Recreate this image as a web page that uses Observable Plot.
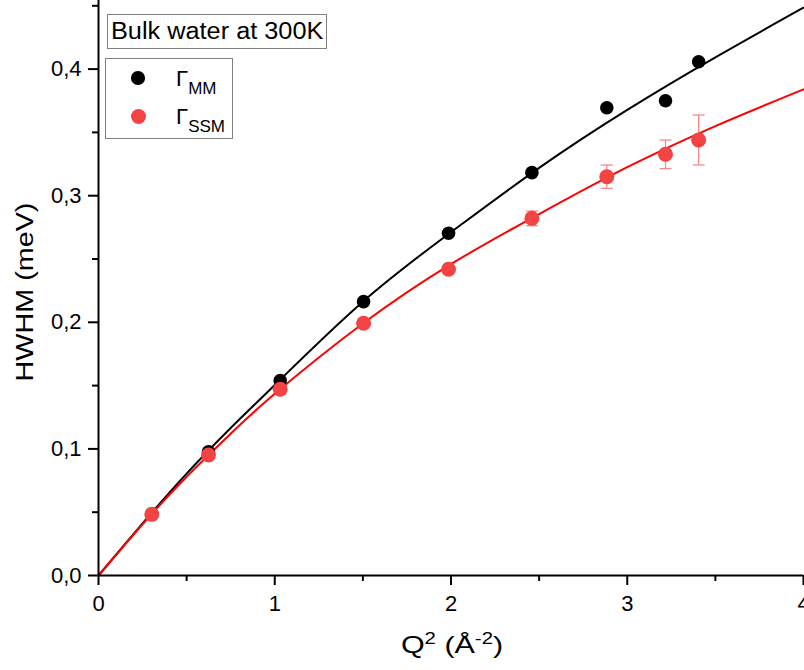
<!DOCTYPE html>
<html>
<head>
<meta charset="utf-8">
<script src="https://cdn.jsdelivr.net/npm/d3@7"></script>
<script src="https://cdn.jsdelivr.net/npm/@observablehq/plot@0.6"></script>
<style>
  body { margin: 0; background: #fff; font-family: "Liberation Sans", Arial, sans-serif; }
  #wrap { position: relative; width: 804px; height: 670px; overflow: hidden; }
  .ov { position: absolute; color: #000; white-space: nowrap; line-height: 1; }
  .box { position: absolute; border: 1px solid #808080; background: #fff; box-sizing: border-box; }
  .dot { position: absolute; border-radius: 50%; }
</style>
</head>
<body>
<div id="wrap"></div>
<script>
// ---- data ----
const q2 = [0.3025, 0.624, 1.031, 1.504, 1.986, 2.459, 2.884, 3.217, 3.405];
const gammaMM = [0.0483, 0.0978, 0.1539, 0.2163, 0.2703, 0.3182, 0.3695, 0.3750, 0.4058];
const gammaSSM = [0.0483, 0.0952, 0.1471, 0.1992, 0.2419, 0.2821, 0.3150, 0.3327, 0.3440];
const errSSM = [0, 0, 0, 0, 0, 0.0058, 0.0092, 0.0113, 0.0197];

const fitQ2 = [0, 0.25, 0.5, 0.75, 1, 1.5, 2, 2.5, 3, 3.5, 4];
const fitMM = [0, 0.0412, 0.0805, 0.1165, 0.1505, 0.2163, 0.2712, 0.322, 0.3678, 0.4093, 0.4485];
const fitSSM = [0, 0.0405, 0.078, 0.112, 0.1435, 0.199, 0.246, 0.2855, 0.3225, 0.355, 0.384];

const xMajor = [0, 1, 2, 3, 4];
const xMinor = [0.5, 1.5, 2.5, 3.5];
const yMajor = [0, 0.1, 0.2, 0.3, 0.4];
const yMinor = [0.05, 0.15, 0.25, 0.35, 0.45];

// ---- tables ----
const pts = q2.map((x, i) => ({x, mm: gammaMM[i], ssm: gammaSSM[i], e: errSSM[i]}));
const errPts = pts.filter(d => d.e > 0);
const fitMMData = fitQ2.map((x, i) => ({x, y: fitMM[i]}));
const fitSSMData = fitQ2.map((x, i) => ({x, y: fitSSM[i]}));

const capSymbol = {
  draw(ctx, size) {
    const w = Math.sqrt(size / Math.PI);
    ctx.moveTo(-w, 0);
    ctx.lineTo(w, 0);
  }
};

const comma = d => d.toFixed(1).replace(".", ",");
const errColor = "#f78a8a";

const chart = Plot.plot({
  width: 804,
  height: 670,
  marginLeft: 98,
  marginRight: 1,
  marginTop: 0,
  marginBottom: 95,
  style: { fontFamily: "'Liberation Sans', Arial, sans-serif", background: "#fff", overflow: "visible" },
  x: { domain: [0, 4] },
  y: { domain: [0, 575 / 1266] },
  marks: [
    Plot.axisX({ticks: xMajor, tickSize: 10, tickPadding: 10, fontSize: 22, strokeWidth: 2, tickFormat: d => String(d), label: null}),
    Plot.axisX({ticks: xMinor, tickSize: 6, strokeWidth: 2, tickFormat: () => "", label: null}),
    Plot.axisY({ticks: yMajor, tickSize: 10, tickPadding: 7, fontSize: 22, strokeWidth: 2, tickFormat: comma, label: null}),
    Plot.axisY({ticks: yMinor, tickSize: 6, strokeWidth: 2, tickFormat: () => "", label: null}),
    Plot.line(fitMMData, {x: "x", y: "y", stroke: "#000", strokeWidth: 2, curve: "natural"}),
    Plot.line(fitSSMData, {x: "x", y: "y", stroke: "#ff0000", strokeWidth: 2, curve: "natural"}),
    Plot.ruleX(errPts, {x: "x", y1: d => d.ssm - d.e, y2: d => d.ssm + d.e, stroke: errColor, strokeWidth: 1.3}),
    Plot.dot(errPts, {x: "x", y: d => d.ssm + d.e, symbol: capSymbol, r: 6, stroke: errColor, strokeWidth: 1.3, fill: "none"}),
    Plot.dot(errPts, {x: "x", y: d => d.ssm - d.e, symbol: capSymbol, r: 6, stroke: errColor, strokeWidth: 1.3, fill: "none"}),
    Plot.dot(pts, {x: "x", y: "mm", r: 6.8, fill: "#000", stroke: "none"}),
    Plot.dot(pts, {x: "x", y: "ssm", r: 7.5, fill: "#f34343", stroke: "none"}),
    Plot.ruleY([0], {stroke: "#000", strokeWidth: 2}),
    Plot.ruleX([0], {stroke: "#000", strokeWidth: 2})
  ]
});

const wrap = document.getElementById("wrap");
wrap.appendChild(chart);

function add(html, style, cls = "ov") {
  const el = document.createElement("div");
  el.className = cls;
  el.innerHTML = html;
  Object.assign(el.style, style);
  wrap.appendChild(el);
  return el;
}

// axis titles
add('Q<sup style="font-size:16px;position:relative;top:-2px;vertical-align:top">2</sup> (Å<sup style="font-size:16px;position:relative;top:-2px;vertical-align:top">-2</sup>)',
  {left: "452px", top: "645px", fontSize: "24px", transform: "translate(-50%,-50%) scaleX(1.27)"});
add('HWHM (meV)',
  {left: "25px", top: "292px", fontSize: "23px", transform: "translate(-50%,-50%) rotate(-90deg) scaleX(1.25)"});

// title box
add('', {left: "107px", top: "14px", width: "220px", height: "35px"}, "box");
add('Bulk water at 300K', {left: "111px", top: "20px", fontSize: "23px", transformOrigin: "left top", transform: "scaleX(1.1)"});

// legend box
add('', {left: "105px", top: "58px", width: "128px", height: "81px"}, "box");
add('', {left: (138 - 6.8) + "px", top: (78 - 6.8) + "px", width: "13.6px", height: "13.6px", background: "#000"}, "dot");
add('', {left: (138 - 7.5) + "px", top: (116 - 7.5) + "px", width: "15px", height: "15px", background: "#f34343"}, "dot");
add('Γ<span style="font-size:17px;position:relative;top:8px">MM</span>', {left: "176px", top: "68px", fontSize: "22px"});
add('Γ<span style="font-size:17px;position:relative;top:8px">SSM</span>', {left: "176px", top: "106px", fontSize: "22px"});
</script>
</body>
</html>
